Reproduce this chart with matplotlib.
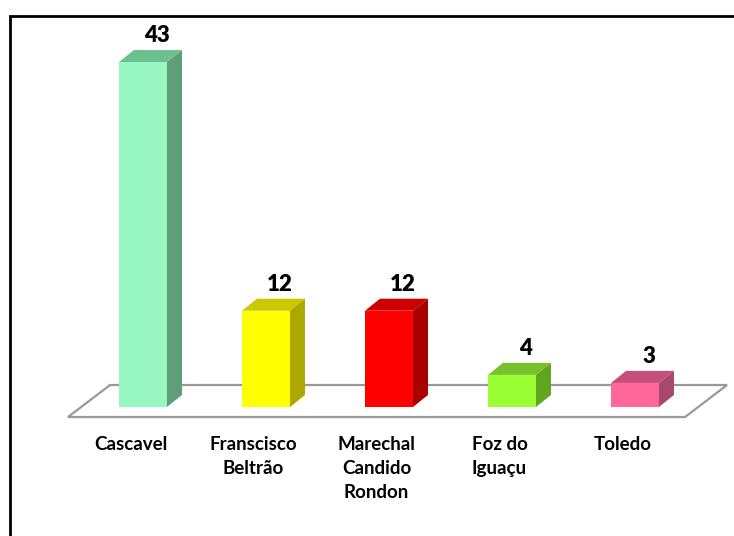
import matplotlib
matplotlib.use("Agg")
import matplotlib.pyplot as plt
from matplotlib.patches import Rectangle, Polygon

# data
cities = ["Cascavel", "Franscisco\nBeltrão", "Marechal\nCandido\nRondon", "Foz do\nIguaçu", "Toledo"]
counts = [43, 12, 12, 4, 3]
front_colors = ["#99F7C3", "#FFFF00", "#FF0000", "#99FF33", "#FF6699"]
top_colors = ["#6CC08F", "#CCC800", "#CC0000", "#76C22A", "#C4507A"]
side_colors = ["#5E9E78", "#ADA800", "#AA0000", "#5FA51E", "#A8486A"]

plt.rcParams["font.family"] = ["Lato", "DejaVu Sans"]

fig = plt.figure(figsize=(7.34, 5.36), dpi=100)
ax = fig.add_axes([0, 0, 1, 1])
ax.set_xlim(-1.1626, 4.8049)
ax.set_ylim(-16.08, 50.73)
ax.axis("off")

width = 0.39
dx, dy = 0.122, 1.5  # 3d depth offset

# floor
floor = Polygon([(-0.61, -1.25), (4.407, -1.25), (4.748, 2.74), (-0.268, 2.74)],
                closed=True, facecolor="white", edgecolor="#999999", lw=1.6, zorder=1)
ax.add_patch(floor)

for i, (v, fc, tc, sc) in enumerate(zip(counts, front_colors, top_colors, side_colors)):
    x0 = i - width / 2
    x1 = i + width / 2
    ax.add_patch(Rectangle((x0, 0), width, v, facecolor=fc, edgecolor="none", zorder=3))
    ax.add_patch(Polygon([(x0, v), (x1, v), (x1 + dx, v + dy), (x0 + dx, v + dy)],
                         facecolor=tc, edgecolor="none", zorder=3))
    ax.add_patch(Polygon([(x1, 0), (x1 + dx, dy), (x1 + dx, v + dy), (x1, v)],
                         facecolor=sc, edgecolor="none", zorder=3))
    ax.annotate(str(v), (i + dx / 2 + 0.05, v + dy), xytext=(0, 3), textcoords="offset points",
                ha="center", va="bottom", fontsize=16, fontweight="heavy", color="black")
    ax.annotate(cities[i], (i, 0), xytext=(-9, -21), textcoords="offset points",
                ha="center", va="top", fontsize=13.5, fontweight="bold", color="black",
                linespacing=1.5)

# frame around the chart area
fig.add_artist(Rectangle((9.5 / 734, -0.05), 1.1, 1 - 15.5 / 536 + 0.05,
                         transform=fig.transFigure, facecolor="none",
                         edgecolor="black", lw=2, clip_on=False))

plt.savefig("out.png", dpi=100)
